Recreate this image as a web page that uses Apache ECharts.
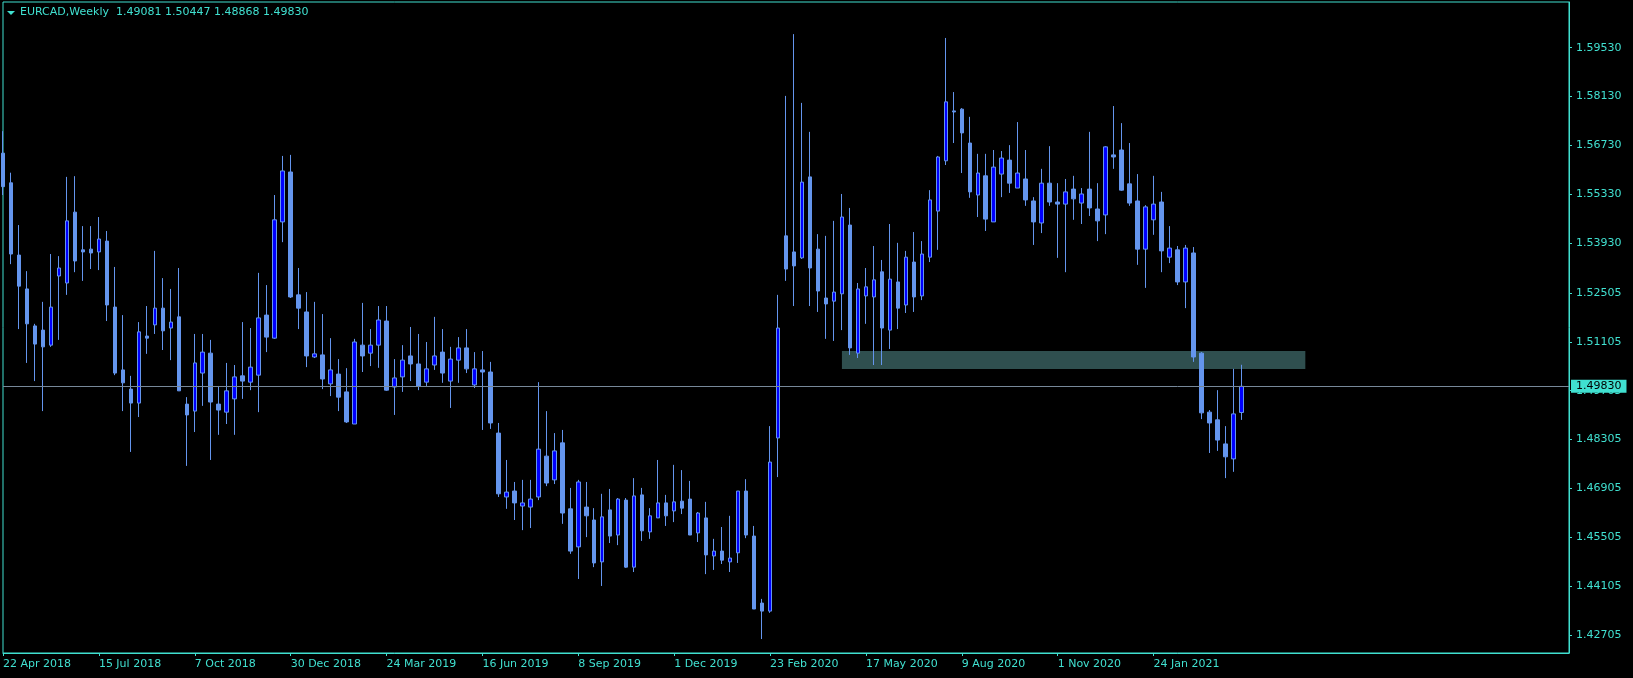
<!DOCTYPE html>
<html>
<head>
<meta charset="utf-8">
<script src="https://cdn.jsdelivr.net/npm/echarts@6/dist/echarts.min.js"></script>
<style>
  html, body { margin: 0; padding: 0; background: #000; }
  #main { width: 1633px; height: 678px; }
</style>
</head>
<body>
<div id="main"></div>
<script>
const symbolName = 'EURCAD,Weekly';
const headerOHLC = [1.49081, 1.50447, 1.48868, 1.49830];
const lastClose = 1.49830;

// weekly bars, [open, close, low, high], first bar = week of 22 Apr 2018
const ohlc = [
  [1.5651, 1.5555, 1.5531, 1.5714], [1.5566, 1.5362, 1.5333, 1.5595], [1.5359, 1.5270, 1.5147, 1.5445],
  [1.5262, 1.5162, 1.5050, 1.5313], [1.5156, 1.5104, 1.4998, 1.5162], [1.5144, 1.5096, 1.4912, 1.5225],
  [1.5101, 1.5210, 1.5096, 1.5362], [1.5299, 1.5322, 1.5116, 1.5356], [1.5279, 1.5457, 1.5245, 1.5583],
  [1.5482, 1.5342, 1.5310, 1.5585], [1.5374, 1.5368, 1.5285, 1.5442], [1.5376, 1.5365, 1.5319, 1.5442],
  [1.5368, 1.5405, 1.5316, 1.5468], [1.5399, 1.5216, 1.5170, 1.5428], [1.5210, 1.5021, 1.5015, 1.5325],
  [1.5030, 1.4993, 1.4912, 1.5187], [1.4975, 1.4935, 1.4795, 1.5013], [1.4935, 1.5139, 1.4895, 1.5167],
  [1.5127, 1.5121, 1.5076, 1.5213], [1.5159, 1.5207, 1.5133, 1.5371], [1.5207, 1.5142, 1.5087, 1.5293],
  [1.5150, 1.5167, 1.5058, 1.5262], [1.5182, 1.4970, 1.4970, 1.5322], [1.4932, 1.4901, 1.4755, 1.4952],
  [1.4912, 1.5050, 1.4852, 1.5133], [1.5021, 1.5081, 1.4927, 1.5133], [1.5078, 1.4938, 1.4772, 1.5116],
  [1.4932, 1.4915, 1.4844, 1.4984], [1.4909, 1.4970, 1.4875, 1.5050], [1.4947, 1.5010, 1.4844, 1.5044],
  [1.5013, 1.4998, 1.4947, 1.5167], [1.4995, 1.5038, 1.4972, 1.5150], [1.5015, 1.5179, 1.4909, 1.5308],
  [1.5187, 1.5124, 1.5081, 1.5273], [1.5121, 1.5460, 1.5119, 1.5531], [1.5454, 1.5600, 1.5396, 1.5643],
  [1.5597, 1.5239, 1.5236, 1.5646], [1.5245, 1.5207, 1.5147, 1.5322], [1.5196, 1.5070, 1.5038, 1.5253],
  [1.5067, 1.5076, 1.5064, 1.5225], [1.5073, 1.5004, 1.4975, 1.5190], [1.4990, 1.5030, 1.4955, 1.5121],
  [1.5018, 1.4952, 1.4912, 1.5061], [1.4967, 1.4881, 1.4878, 1.5035], [1.4875, 1.5110, 1.4875, 1.5119],
  [1.5101, 1.5070, 1.5024, 1.5222], [1.5078, 1.5101, 1.5041, 1.5147], [1.5101, 1.5173, 1.5036, 1.5213],
  [1.5170, 1.4972, 1.4970, 1.5213], [1.4981, 1.5007, 1.4901, 1.5061], [1.5010, 1.5058, 1.4967, 1.5101],
  [1.5070, 1.5047, 1.4998, 1.5153], [1.5047, 1.4984, 1.4972, 1.5133], [1.4995, 1.5033, 1.4984, 1.5110],
  [1.5044, 1.5070, 1.5030, 1.5182], [1.5081, 1.5021, 1.4993, 1.5147], [1.4998, 1.5061, 1.4921, 1.5096],
  [1.5058, 1.5093, 1.4993, 1.5124], [1.5093, 1.5033, 1.5021, 1.5147], [1.4987, 1.5033, 1.4978, 1.5081],
  [1.5030, 1.5024, 1.4858, 1.5084], [1.5024, 1.4878, 1.4861, 1.5053], [1.4849, 1.4675, 1.4666, 1.4878],
  [1.4666, 1.4680, 1.4632, 1.4772], [1.4683, 1.4649, 1.4600, 1.4709], [1.4640, 1.4649, 1.4571, 1.4715],
  [1.4637, 1.4660, 1.4577, 1.4715], [1.4666, 1.4803, 1.4657, 1.4995], [1.4783, 1.4706, 1.4697, 1.4912],
  [1.4715, 1.4798, 1.4703, 1.4849], [1.4821, 1.4620, 1.4589, 1.4858], [1.4632, 1.4511, 1.4503, 1.4692],
  [1.4523, 1.4709, 1.4431, 1.4715], [1.4637, 1.4612, 1.4551, 1.4709], [1.4600, 1.4477, 1.4465, 1.4634],
  [1.4480, 1.4609, 1.4411, 1.4675], [1.4629, 1.4554, 1.4534, 1.4689], [1.4557, 1.4660, 1.4528, 1.4663],
  [1.4657, 1.4465, 1.4463, 1.4663], [1.4465, 1.4669, 1.4451, 1.4720], [1.4672, 1.4569, 1.4540, 1.4692],
  [1.4566, 1.4612, 1.4546, 1.4634], [1.4606, 1.4649, 1.4606, 1.4772], [1.4649, 1.4612, 1.4583, 1.4672],
  [1.4626, 1.4652, 1.4594, 1.4758], [1.4654, 1.4634, 1.4617, 1.4743], [1.4660, 1.4557, 1.4557, 1.4712],
  [1.4563, 1.4620, 1.4537, 1.4623], [1.4606, 1.4500, 1.4445, 1.4652], [1.4497, 1.4511, 1.4457, 1.4546],
  [1.4511, 1.4485, 1.4474, 1.4580], [1.4480, 1.4491, 1.4451, 1.4612], [1.4506, 1.4683, 1.4477, 1.4683],
  [1.4683, 1.4557, 1.4548, 1.4717], [1.4554, 1.4345, 1.4345, 1.4583], [1.4362, 1.4339, 1.4259, 1.4374],
  [1.4339, 1.4766, 1.4334, 1.4869], [1.4835, 1.5150, 1.4723, 1.5245], [1.5414, 1.5319, 1.5285, 1.5815],
  [1.5368, 1.5328, 1.5213, 1.5992], [1.5351, 1.5568, 1.5348, 1.5795], [1.5583, 1.5322, 1.5213, 1.5712],
  [1.5376, 1.5256, 1.5196, 1.5419], [1.5236, 1.5219, 1.5119, 1.5414], [1.5227, 1.5253, 1.5113, 1.5457],
  [1.5248, 1.5468, 1.5144, 1.5534], [1.5445, 1.5093, 1.5073, 1.5494], [1.5078, 1.5262, 1.5064, 1.5279],
  [1.5242, 1.5268, 1.5162, 1.5322], [1.5239, 1.5288, 1.5044, 1.5385], [1.5311, 1.5150, 1.5044, 1.5345],
  [1.5144, 1.5290, 1.5090, 1.5448], [1.5282, 1.5207, 1.5147, 1.5394], [1.5216, 1.5353, 1.5193, 1.5371],
  [1.5339, 1.5239, 1.5196, 1.5425], [1.5242, 1.5362, 1.5230, 1.5399], [1.5353, 1.5517, 1.5339, 1.5545],
  [1.5485, 1.5640, 1.5374, 1.5643], [1.5629, 1.5798, 1.5617, 1.5981], [1.5772, 1.5769, 1.5680, 1.5826],
  [1.5777, 1.5709, 1.5594, 1.5780], [1.5680, 1.5540, 1.5523, 1.5755], [1.5531, 1.5594, 1.5468, 1.5649],
  [1.5586, 1.5462, 1.5428, 1.5649], [1.5454, 1.5611, 1.5454, 1.5660], [1.5591, 1.5637, 1.5525, 1.5657],
  [1.5631, 1.5565, 1.5537, 1.5674], [1.5551, 1.5594, 1.5551, 1.5740], [1.5577, 1.5517, 1.5500, 1.5660],
  [1.5514, 1.5454, 1.5388, 1.5525], [1.5451, 1.5565, 1.5422, 1.5606], [1.5565, 1.5511, 1.5500, 1.5671],
  [1.5511, 1.5505, 1.5351, 1.5565], [1.5505, 1.5540, 1.5310, 1.5577], [1.5548, 1.5520, 1.5460, 1.5586],
  [1.5508, 1.5534, 1.5448, 1.5551], [1.5548, 1.5494, 1.5471, 1.5712], [1.5491, 1.5457, 1.5399, 1.5565],
  [1.5474, 1.5669, 1.5419, 1.5671], [1.5646, 1.5640, 1.5606, 1.5786], [1.5660, 1.5545, 1.5543, 1.5737],
  [1.5563, 1.5508, 1.5500, 1.5680], [1.5514, 1.5376, 1.5331, 1.5591], [1.5376, 1.5497, 1.5265, 1.5502],
  [1.5460, 1.5505, 1.5417, 1.5586], [1.5511, 1.5371, 1.5310, 1.5540], [1.5353, 1.5379, 1.5336, 1.5442],
  [1.5374, 1.5282, 1.5273, 1.5385], [1.5282, 1.5379, 1.5207, 1.5388], [1.5365, 1.5067, 1.5053, 1.5382],
  [1.5078, 1.4907, 1.4889, 1.5081], [1.4909, 1.4878, 1.4792, 1.4915], [1.4887, 1.4829, 1.4798, 1.4972],
  [1.4818, 1.4781, 1.4720, 1.4869], [1.4775, 1.4904, 1.4738, 1.5033], [1.49081, 1.49830, 1.48868, 1.50447]
];

const priceTicks = [1.59530, 1.58130, 1.56730, 1.55330, 1.53930, 1.52505, 1.51105,
  1.49705, 1.48305, 1.46905, 1.45505, 1.44105, 1.42705];

// grey-green zone
const zoneLow = 1.50325;
const zoneHigh = 1.50841;
const zoneFrom = 105;
const zoneTo = 163;

const totalSlots = 197;
const monthNames = ['Jan', 'Feb', 'Mar', 'Apr', 'May', 'Jun', 'Jul', 'Aug', 'Sep', 'Oct', 'Nov', 'Dec'];
const weeks = [];
const start = Date.UTC(2018, 3, 22);
for (let i = 0; i < totalSlots; i++) {
  const d = new Date(start + i * 7 * 86400000);
  weeks.push(d.getUTCDate() + ' ' + monthNames[d.getUTCMonth()] + ' ' + d.getUTCFullYear());
}

const fg = '#40E0D0';
const font = 'DejaVu Sans';
const showWeek = (idx) => idx % 12 === 0 && idx < ohlc.length;

const chart = echarts.init(document.getElementById('main'));
const option = {
  backgroundColor: '#000',
  animation: false,
  title: {
    text: symbolName + '  ' + headerOHLC.map(v => v.toFixed(5)).join(' '),
    left: 20,
    top: 7,
    padding: 0,
    textStyle: {color: fg, fontFamily: font, fontSize: 11, fontWeight: 'normal'}
  },
  graphic: [{
    type: 'polygon',
    shape: {points: [[7, 11], [15, 11], [11, 15]]},
    style: {fill: fg}
  }],
  grid: {
    left: 2, right: 64, top: 2, bottom: 25,
    show: true, borderColor: fg, borderWidth: 1
  },
  xAxis: {
    type: 'category',
    data: weeks,
    boundaryGap: false,
    axisLine: {lineStyle: {color: fg}},
    axisTick: {show: true, interval: showWeek, length: 3, lineStyle: {color: fg}},
    axisLabel: {interval: showWeek, align: 'left', color: fg, fontFamily: font, fontSize: 11, margin: 6},
    splitLine: {show: false}
  },
  yAxis: {
    type: 'value',
    position: 'right',
    min: 1.42190,
    max: 1.60840,
    axisLine: {show: true, lineStyle: {color: fg}},
    axisTick: {show: true, length: 3, customValues: priceTicks, lineStyle: {color: fg}},
    axisLabel: {
      customValues: priceTicks,
      formatter: v => v.toFixed(5),
      color: fg, fontFamily: font, fontSize: 11, margin: 7
    },
    splitLine: {show: false}
  },
  series: [{
    type: 'candlestick',
    data: ohlc,
    barWidth: 4,
    itemStyle: {
      color: '#0000FF',
      color0: '#6495ED',
      borderColor: '#6495ED',
      borderColor0: '#6495ED',
      borderColorDoji: '#6495ED',
      borderWidth: 1
    },
    markArea: {
      silent: true,
      itemStyle: {color: '#2F4F4F'},
      data: [[{xAxis: weeks[zoneFrom], yAxis: zoneHigh}, {xAxis: weeks[zoneTo], yAxis: zoneLow}]]
    },
    markLine: {
      silent: true,
      precision: 5,
      symbol: ['none', 'none'],
      lineStyle: {color: '#778899', width: 1, type: 'solid'},
      label: {
        show: true,
        position: 'end',
        distance: 2,
        formatter: lastClose.toFixed(5),
        color: '#000',
        backgroundColor: fg,
        padding: [1, 5, 1, 5],
        fontFamily: font,
        fontSize: 11
      },
      data: [{yAxis: lastClose}]
    }
  }]
};
chart.setOption(option);
</script>
</body>
</html>
